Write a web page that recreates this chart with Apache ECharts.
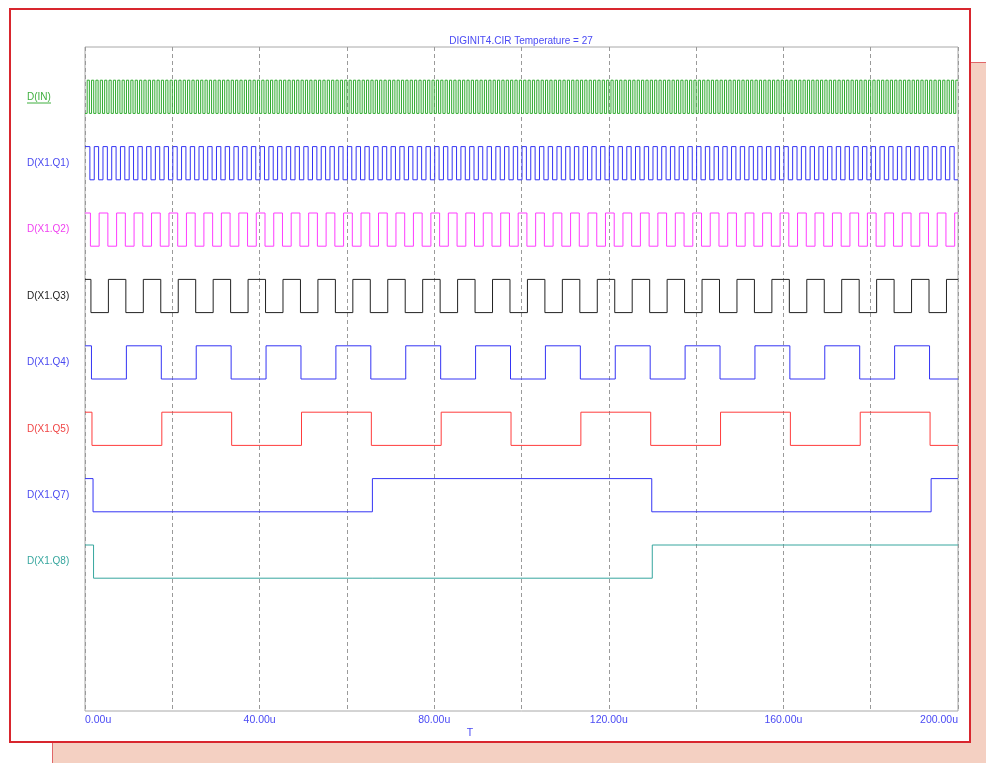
<!DOCTYPE html>
<html>
<head>
<meta charset="utf-8">
<title>DIGINIT4.CIR</title>
<script src="https://cdn.jsdelivr.net/npm/echarts@6/dist/echarts.min.js"></script>
<style>
  html, body { margin: 0; padding: 0; width: 986px; height: 763px; overflow: hidden; background: #ffffff; }
  #shadow { position: absolute; left: 52px; top: 62px; width: 960px; height: 720px; background: #F4D0C2;
            border-left: 1px solid #E06668; border-top: 1px solid #E06668; }
  #panel { position: absolute; left: 9px; top: 8px; width: 962px; height: 735px; box-sizing: border-box;
           background: #ffffff; border: 2px solid #D8262E; }
  #chart { position: absolute; left: 0; top: 0; width: 986px; height: 763px; }
</style>
</head>
<body>
<div id="shadow"></div>
<div id="panel"></div>
<div id="chart"></div>
<script>
// Simulation window (microseconds)
const T_START = 0;
const T_END = 200;

// Trace names, top to bottom
const traceNames = ['D(IN)', 'D(X1.Q1)', 'D(X1.Q2)', 'D(X1.Q3)', 'D(X1.Q4)', 'D(X1.Q5)', 'D(X1.Q7)', 'D(X1.Q8)'];

// Logic level of each trace at T = 0 (0 = low, 1 = high)
const startLevels = [0, 1, 1, 1, 1, 1, 1, 1];

// Transition times (us) of each digital trace
const edgesIN = [
  0.5,1,1.5,2,2.5,3,3.5,4,4.5,5,5.5,6,6.5,7,7.5,8,8.5,9,9.5,10,
  10.5,11,11.5,12,12.5,13,13.5,14,14.5,15,15.5,16,16.5,17,17.5,18,18.5,19,19.5,20,
  20.5,21,21.5,22,22.5,23,23.5,24,24.5,25,25.5,26,26.5,27,27.5,28,28.5,29,29.5,30,
  30.5,31,31.5,32,32.5,33,33.5,34,34.5,35,35.5,36,36.5,37,37.5,38,38.5,39,39.5,40,
  40.5,41,41.5,42,42.5,43,43.5,44,44.5,45,45.5,46,46.5,47,47.5,48,48.5,49,49.5,50,
  50.5,51,51.5,52,52.5,53,53.5,54,54.5,55,55.5,56,56.5,57,57.5,58,58.5,59,59.5,60,
  60.5,61,61.5,62,62.5,63,63.5,64,64.5,65,65.5,66,66.5,67,67.5,68,68.5,69,69.5,70,
  70.5,71,71.5,72,72.5,73,73.5,74,74.5,75,75.5,76,76.5,77,77.5,78,78.5,79,79.5,80,
  80.5,81,81.5,82,82.5,83,83.5,84,84.5,85,85.5,86,86.5,87,87.5,88,88.5,89,89.5,90,
  90.5,91,91.5,92,92.5,93,93.5,94,94.5,95,95.5,96,96.5,97,97.5,98,98.5,99,99.5,100,
  100.5,101,101.5,102,102.5,103,103.5,104,104.5,105,105.5,106,106.5,107,107.5,108,108.5,109,109.5,110,
  110.5,111,111.5,112,112.5,113,113.5,114,114.5,115,115.5,116,116.5,117,117.5,118,118.5,119,119.5,120,
  120.5,121,121.5,122,122.5,123,123.5,124,124.5,125,125.5,126,126.5,127,127.5,128,128.5,129,129.5,130,
  130.5,131,131.5,132,132.5,133,133.5,134,134.5,135,135.5,136,136.5,137,137.5,138,138.5,139,139.5,140,
  140.5,141,141.5,142,142.5,143,143.5,144,144.5,145,145.5,146,146.5,147,147.5,148,148.5,149,149.5,150,
  150.5,151,151.5,152,152.5,153,153.5,154,154.5,155,155.5,156,156.5,157,157.5,158,158.5,159,159.5,160,
  160.5,161,161.5,162,162.5,163,163.5,164,164.5,165,165.5,166,166.5,167,167.5,168,168.5,169,169.5,170,
  170.5,171,171.5,172,172.5,173,173.5,174,174.5,175,175.5,176,176.5,177,177.5,178,178.5,179,179.5,180,
  180.5,181,181.5,182,182.5,183,183.5,184,184.5,185,185.5,186,186.5,187,187.5,188,188.5,189,189.5,190,
  190.5,191,191.5,192,192.5,193,193.5,194,194.5,195,195.5,196,196.5,197,197.5,198,198.5,199,199.5
];
const edgesQ1 = [
  1.12,2.12,3.12,4.12,5.12,6.12,7.12,8.12,9.12,10.12,
  11.12,12.12,13.12,14.12,15.12,16.12,17.12,18.12,19.12,20.12,
  21.12,22.12,23.12,24.12,25.12,26.12,27.12,28.12,29.12,30.12,
  31.12,32.12,33.12,34.12,35.12,36.12,37.12,38.12,39.12,40.12,
  41.12,42.12,43.12,44.12,45.12,46.12,47.12,48.12,49.12,50.12,
  51.12,52.12,53.12,54.12,55.12,56.12,57.12,58.12,59.12,60.12,
  61.12,62.12,63.12,64.12,65.12,66.12,67.12,68.12,69.12,70.12,
  71.12,72.12,73.12,74.12,75.12,76.12,77.12,78.12,79.12,80.12,
  81.12,82.12,83.12,84.12,85.12,86.12,87.12,88.12,89.12,90.12,
  91.12,92.12,93.12,94.12,95.12,96.12,97.12,98.12,99.12,100.12,
  101.12,102.12,103.12,104.12,105.12,106.12,107.12,108.12,109.12,110.12,
  111.12,112.12,113.12,114.12,115.12,116.12,117.12,118.12,119.12,120.12,
  121.12,122.12,123.12,124.12,125.12,126.12,127.12,128.12,129.12,130.12,
  131.12,132.12,133.12,134.12,135.12,136.12,137.12,138.12,139.12,140.12,
  141.12,142.12,143.12,144.12,145.12,146.12,147.12,148.12,149.12,150.12,
  151.12,152.12,153.12,154.12,155.12,156.12,157.12,158.12,159.12,160.12,
  161.12,162.12,163.12,164.12,165.12,166.12,167.12,168.12,169.12,170.12,
  171.12,172.12,173.12,174.12,175.12,176.12,177.12,178.12,179.12,180.12,
  181.12,182.12,183.12,184.12,185.12,186.12,187.12,188.12,189.12,190.12,
  191.12,192.12,193.12,194.12,195.12,196.12,197.12,198.12,199.12
];
const edgesQ2 = [
  1.24,3.24,5.24,7.24,9.24,11.24,13.24,15.24,17.24,19.24,
  21.24,23.24,25.24,27.24,29.24,31.24,33.24,35.24,37.24,39.24,
  41.24,43.24,45.24,47.24,49.24,51.24,53.24,55.24,57.24,59.24,
  61.24,63.24,65.24,67.24,69.24,71.24,73.24,75.24,77.24,79.24,
  81.24,83.24,85.24,87.24,89.24,91.24,93.24,95.24,97.24,99.24,
  101.24,103.24,105.24,107.24,109.24,111.24,113.24,115.24,117.24,119.24,
  121.24,123.24,125.24,127.24,129.24,131.24,133.24,135.24,137.24,139.24,
  141.24,143.24,145.24,147.24,149.24,151.24,153.24,155.24,157.24,159.24,
  161.24,163.24,165.24,167.24,169.24,171.24,173.24,175.24,177.24,179.24,
  181.24,183.24,185.24,187.24,189.24,191.24,193.24,195.24,197.24,199.24
];
const edgesQ3 = [
  1.36,5.36,9.36,13.36,17.36,21.36,25.36,29.36,33.36,37.36,
  41.36,45.36,49.36,53.36,57.36,61.36,65.36,69.36,73.36,77.36,
  81.36,85.36,89.36,93.36,97.36,101.36,105.36,109.36,113.36,117.36,
  121.36,125.36,129.36,133.36,137.36,141.36,145.36,149.36,153.36,157.36,
  161.36,165.36,169.36,173.36,177.36,181.36,185.36,189.36,193.36,197.36
];
const edgesQ4 = [1.48,9.48,17.48,25.48,33.48,41.48,49.48,57.48,65.48,73.48,81.48,89.48,97.48,
                 105.48,113.48,121.48,129.48,137.48,145.48,153.48,161.48,169.48,177.48,185.48,193.48];
const edgesQ5 = [1.6,17.6,33.6,49.6,65.6,81.6,97.6,113.6,129.6,145.6,161.6,177.6,193.6];
const edgesQ7 = [1.84,65.84,129.84,193.84];
const edgesQ8 = [1.96,129.96];

const traceEdges = [edgesIN, edgesQ1, edgesQ2, edgesQ3, edgesQ4, edgesQ5, edgesQ7, edgesQ8];

// Time-axis tick labels
const xLabelValues = [0, 40, 80, 120, 160, 200];

// Styling
const FONT = "'Liberation Sans', Arial, sans-serif";
const traceColors = ['#2EAA2E', '#3434F4', '#FF3CFF', '#222222', '#3434F4', '#FF3C3C', '#3434F4', '#36A69E'];
const labelColors = ['#3FAF3F', '#4848F0', '#F040F0', '#202020', '#4848F0', '#F04444', '#4848F0', '#36A69E'];
const axisBlue = '#4A4AF4';

// Each trace lives in its own lane: low at (9 - lane), high half a unit above
function laneLevel(lane, level) { return (9 - lane) + 0.5 * level; }

function stepData(lane) {
  let level = startLevels[lane];
  const pts = [[T_START, laneLevel(lane, level)]];
  for (const t of traceEdges[lane]) {
    level = 1 - level;
    pts.push([t, laneLevel(lane, level)]);
  }
  pts.push([T_END, laneLevel(lane, level)]);
  return pts;
}

const rich = {};
traceNames.forEach((n, i) => {
  rich['s' + i] = { color: labelColors[i], fontSize: 10, fontFamily: FONT };
});

const series = traceNames.map((name, i) => ({
  name: name,
  type: 'line',
  step: 'end',
  data: stepData(i),
  symbol: 'none',
  silent: true,
  animation: false,
  lineStyle: { color: traceColors[i], width: 1 },
  emphasis: { disabled: true }
}));

const chart = echarts.init(document.getElementById('chart'), null, { renderer: 'canvas' });
chart.setOption({
  animation: false,
  backgroundColor: 'transparent',
  title: {
    text: 'DIGINIT4.CIR Temperature = 27',
    left: 521,
    top: 36,
    padding: 0,
    textAlign: 'center',
    textStyle: { color: axisBlue, fontSize: 10, fontWeight: 'normal', fontFamily: FONT }
  },
  grid: {
    left: 85, right: 28, top: 47, bottom: 52,
    show: true, borderColor: '#A8A8A8', borderWidth: 1, backgroundColor: 'transparent'
  },
  xAxis: {
    type: 'value',
    min: T_START, max: T_END, interval: 20,
    name: 'T',
    nameLocation: 'middle',
    nameGap: 17,
    nameMoveOverlap: false,
    nameTextStyle: { color: axisBlue, fontSize: 10.5, fontFamily: FONT, padding: [0, 103, 0, 0] },
    axisLine: { show: false },
    axisTick: { show: false },
    splitLine: { show: true, lineStyle: { color: '#9A9A9A', type: [4, 3], width: 1 } },
    axisLabel: {
      margin: 4,
      color: axisBlue,
      fontSize: 10.5,
      fontFamily: FONT,
      alignMinLabel: 'left',
      alignMaxLabel: 'right',
      formatter: v => xLabelValues.includes(v) ? v.toFixed(2) + 'u' : ''
    }
  },
  yAxis: {
    type: 'value',
    min: 0, max: 10, interval: 0.25,
    axisLine: { show: false },
    axisTick: { show: false },
    splitLine: { show: false },
    axisLabel: {
      align: 'left',
      margin: 58,
      formatter: v => {
        const i = Math.round(9.25 - v);
        if (i >= 0 && i < traceNames.length && Math.abs(v - (9.25 - i)) < 1e-6) {
          return '{s' + i + '|' + traceNames[i] + '}';
        }
        return '';
      },
      rich: rich
    }
  },
  graphic: [
    // underline beneath the input trace name
    { type: 'line', silent: true, shape: { x1: 27, y1: 103, x2: 51, y2: 103 },
      style: { stroke: labelColors[0], lineWidth: 1 } }
  ],
  series: series
});
</script>
</body>
</html>
